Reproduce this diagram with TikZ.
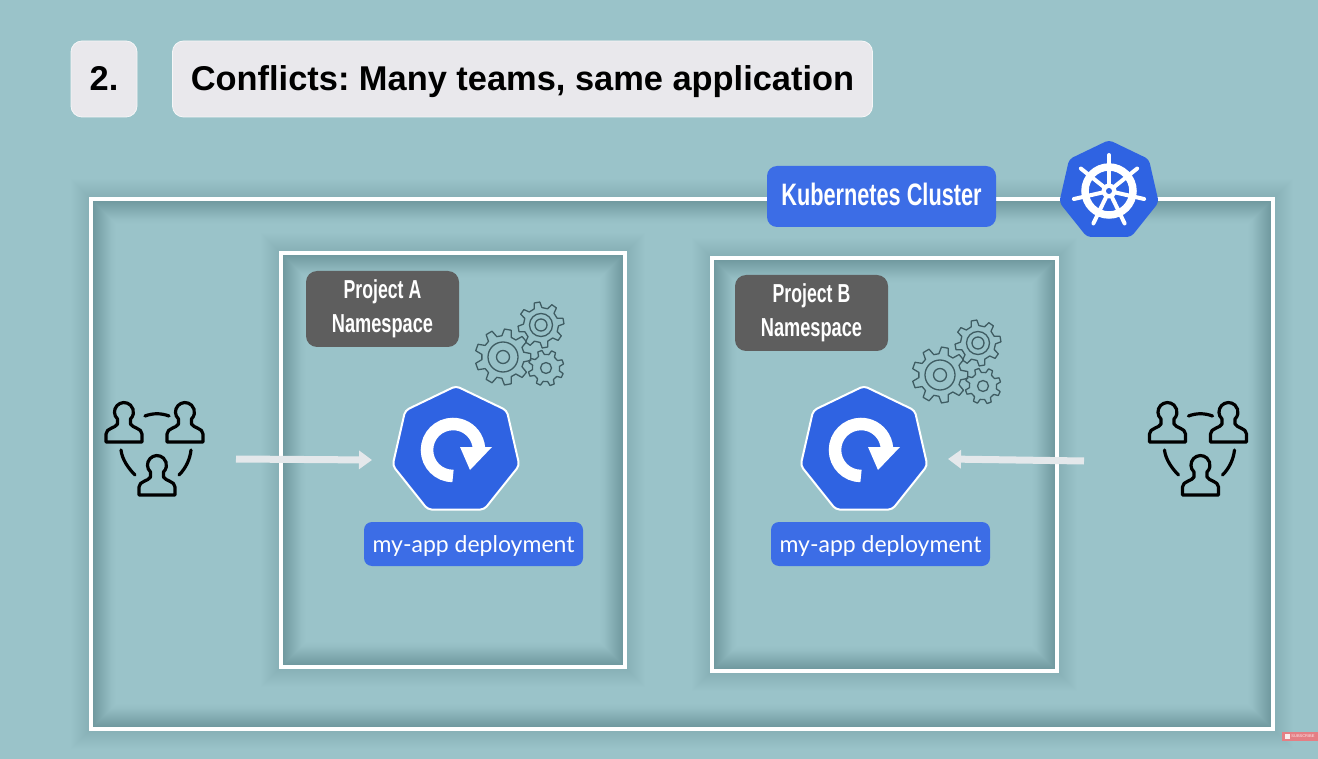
\documentclass[tikz,border=0pt]{standalone}
\usepackage{fontspec}
\usepackage{graphicx}
\setmainfont{Liberation Sans}
\newfontfamily\gillish{Lato}
\usetikzlibrary{shapes.geometric,arrows.meta}
\definecolor{bgteal}{HTML}{9AC3C9}
\definecolor{titlegrey}{HTML}{E9E8EC}
\definecolor{kblue}{HTML}{2F63E2}
\definecolor{lblue}{HTML}{3C6DE6}
\definecolor{nsgrey}{HTML}{5E5E5E}
\definecolor{gearline}{HTML}{3F5C62}
\definecolor{flowc}{HTML}{E4E8EB}
\definecolor{subred}{HTML}{E57E84}
\tikzset{
  x=1pt,y=1pt,
  titlebox/.style={fill=titlegrey,draw=white!60!titlegrey,line width=.8pt,rounded corners=11pt,inner sep=0pt,font=\frenchspacing\bfseries\fontsize{34.4}{34}\selectfont,text=black,text height=24pt,text depth=0pt},
  clusterlabel/.style={fill=lblue,rounded corners=10pt,minimum width=229pt,minimum height=61pt,inner sep=0pt,text=white,font=\bfseries\fontsize{31}{31}\selectfont,text height=18pt,text depth=0pt},
  nslabel/.style={fill=nsgrey,rounded corners=11pt,minimum width=153pt,minimum height=76pt,inner sep=0pt,text=white,align=center,font=\bfseries\fontsize{26}{34}\selectfont},
  deplabel/.style={fill=lblue,rounded corners=8pt,minimum width=219pt,minimum height=44pt,inner sep=0pt,text=white,font=\gillish\fontsize{23}{23}\selectfont,text height=18pt,text depth=2pt},
  hepta/.style={regular polygon,regular polygon sides=7,fill=kblue,inner sep=0pt,outer sep=0pt,rounded corners=4pt},
  frameline/.style={draw=white,line width=4.6pt,line join=miter},
  flow/.style={draw=flowc,line width=7pt,-{Triangle[length=13pt,width=18pt]}},
  teamline/.style={draw=black,line width=3.2pt,line cap=round,line join=round},
  gearstroke/.style={draw=gearline,line width=1.3pt,line join=round},
  person/.pic={\draw[teamline] (-6.5,-7) arc[start angle=-133,end angle=-407,radius=9.5] -- (6.5,-12) .. controls (8,-16) and (18,-16) .. (18,-22) -- (18,-30) -- (-18,-30) -- (-18,-22) .. controls (-18,-16) and (-8,-16) .. (-6.5,-12) -- cycle;},
  teamicon/.pic={
    \pic at (-33,20) {person};
    \pic at (28,20) {person};
    \pic at (0,-33) {person};
    \draw[teamline] (-12,16) .. controls (-4,19) and (4,19) .. (12,16);
    \draw[teamline] (-36,-18) .. controls (-35,-27) and (-29,-36) .. (-22,-43);
    \draw[teamline] (34,-18) .. controls (33,-27) and (29,-36) .. (22,-43);
  }
}
% soft halo on both sides of a frame, and a stronger one on its inner side
\newcommand{\softshadow}[4]{%
  \foreach \w in {4,6,...,40}{\draw[black,opacity=.003,line width=\w pt] (#1,#2) rectangle (#3,#4);}
  \begin{scope}
    \clip (#1,#2) rectangle (#3,#4);
    \foreach \w in {4,6,...,50}{\draw[black,opacity=.005,line width=\w pt] (#1,#2) rectangle (#3,#4);}
  \end{scope}}
\newcommand{\gearat}[5]{%
  \draw[gearstroke,shift={(#1,#2)}] (#5-13:0.76*#3) \foreach \k [evaluate=\k as \a using \k*360/#4+#5] in {1,...,#4}{
    -- ({\a-360/#4-13}:{0.76*#3}) -- ({\a-360/#4-7}:#3) -- ({\a-360/#4+7}:#3) -- ({\a-360/#4+13}:{0.76*#3})
  } -- cycle;}
\newcommand{\gearset}[2]{%
  \gearat{#1}{#2}{28}{9}{0}
  \draw[gearstroke] (#1,#2) circle (15) (#1,#2) circle (6.5);
  \gearat{#1+38}{#2+32}{23}{8}{10}
  \draw[gearstroke] (#1+38,#2+32) circle (11.5) (#1+38,#2+32) circle (6);
  \gearat{#1+43}{#2-11}{18}{8}{20}
  \draw[gearstroke] (#1+43,#2-11) circle (5.5);}
\newcommand{\rollout}[2]{%
  \draw[white,line width=12.5pt] (#1,#2-26) arc[start angle=-90,end angle=-270-95,radius=26];
  \fill[white] (#1+7,#2+3) -- (#1+39,#2+3) -- (#1+17,#2-20) -- cycle;}
\begin{document}
\begin{tikzpicture}
\useasboundingbox (0,0) rectangle (1318,-759);
\fill[bgteal] (0,0) rectangle (1318,-759);
% shadows
\softshadow{91}{-199}{1273}{-729}
\softshadow{281}{-253}{625}{-667}
\softshadow{712}{-258}{1057}{-671}
% title
\node[titlebox,minimum width=66pt,minimum height=76pt] (num) at (104,-79) {2.};
\node[titlebox,minimum width=700pt,minimum height=76pt] (title) at (522.5,-79) {Conflicts: Many teams, same application};
% frames
\draw[frameline] (91,-199) rectangle (1273,-729);
\draw[frameline] (281,-253) rectangle (625,-667);
\draw[frameline] (712,-258) rectangle (1057,-671);
% cluster label and logo
\node[clusterlabel] (cluster) at (881.5,-196.5) {\scalebox{.70}[1]{Kubernetes Cluster}};
\node[hepta,minimum size=102pt] (logo) at (1109,-191) {};
\draw[white,line width=7.5pt] (logo.center) circle (24);
\foreach \ang in {90,141.43,192.86,244.29,295.71,347.14,38.57}{
  \draw[white,line width=4pt,line cap=round] (logo.center) -- ++(\ang:36);}
\fill[white] (logo.center) circle (7.5);
\fill[kblue] (logo.center) circle (3);
% namespaces
\node[nslabel] (nsA) at (382.5,-309) {\raisebox{1pt}{\scalebox{.68}[1]{Project A}}\\\raisebox{1pt}{\scalebox{.70}[1]{Namespace}}};
\node[nslabel] (nsB) at (811.5,-313) {\raisebox{1pt}{\scalebox{.68}[1]{Project B}}\\\raisebox{1pt}{\scalebox{.70}[1]{Namespace}}};
\gearset{503}{-357}
\gearset{940}{-375}
% apps
\node[hepta,draw=white,line width=2pt,minimum size=130pt] (appA) at (456,-451) {};
\node[hepta,draw=white,line width=2pt,minimum size=130pt] (appB) at (864,-451) {};
\rollout{453}{-450}
\rollout{861}{-450}
\node[deplabel] (depA) at (473.5,-544) {my-app deployment};
\node[deplabel] (depB) at (880.5,-544) {my-app deployment};
% teams
\pic at (157,-432) {teamicon};
\pic at (1200.5,-432) {teamicon};
\coordinate (teamA) at (236,-459);
\coordinate (teamB) at (1084,-461);
\coordinate (intoA) at (372,-460);
\coordinate (intoB) at (948,-459);
\draw[flow] (teamA) -- (intoA);
\draw[flow] (teamB) -- (intoB);
% badge
\node[fill=subred,minimum width=36pt,minimum height=9pt,inner sep=0pt,text=white!85!subred,font=\fontsize{4}{4}\selectfont] (badge) at (1300,-736.5) {\hspace{6pt}SUBSCRIBE};
\fill[white!85!subred] (1284.5,-734) rectangle (1289.5,-739);
\end{tikzpicture}
\end{document}
